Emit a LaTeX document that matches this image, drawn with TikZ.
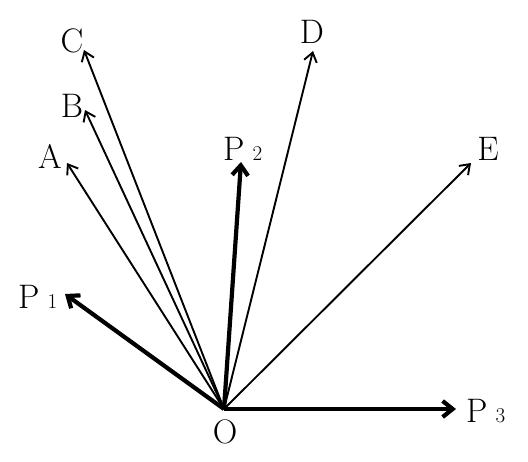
\documentclass[tikz,border=0pt]{standalone}
\usepackage{fontspec}
\usetikzlibrary{arrows.meta}
\begin{document}
\begin{tikzpicture}[x=1pt,y=-1pt,
  lbl/.style={inner sep=0pt,font=\fontsize{34}{40}\selectfont},
  thinvec/.style={line width=1.9pt,-{Straight Barb[length=9pt,width=13pt,line width=1.9pt]}},
  thickvec/.style={line width=4.2pt,-{Straight Barb[length=10pt,width=16pt,line width=4.2pt]}}]
\useasboundingbox (0,0) rectangle (528,461);
\newcommand{\sub}[1]{\hspace{8pt}{\fontsize{21}{24}\selectfont #1}}
\coordinate (O) at (224,409);
\coordinate (tC) at (84,50);
\coordinate (tB) at (85,110);
\coordinate (tA) at (67,163);
\coordinate (tD) at (313,51);
\coordinate (tE) at (471,163);
\coordinate (tP1) at (65,294);
\coordinate (tP2) at (241,162);
\coordinate (tP3) at (456,409);
\draw[thinvec] (O) -- (tC);
\draw[thinvec] (O) -- (tB);
\draw[thinvec] (O) -- (tA);
\draw[thinvec] (O) -- (tD);
\draw[thinvec] (O) -- (tE);
\draw[thickvec] (O) -- (tP1);
\draw[thickvec] (O) -- (tP2);
\draw[thickvec] (O) -- (tP3);
\node[lbl,anchor=base] (lC) at (72,52) {C};
\node[lbl,anchor=base] (lB) at (72,117) {B};
\node[lbl,anchor=base] (lA) at (50,168) {A};
\node[lbl,anchor=base] (lD) at (312,43) {D};
\node[lbl,anchor=base] (lE) at (488,160) {E};
\node[lbl,anchor=base] (lO) at (225,443) {O};
\node[lbl,anchor=base west] (lP1) at (18,308) {P\sub{1}};
\node[lbl,anchor=base west] (lP2) at (223,160) {P\sub{2}};
\node[lbl,anchor=base west] (lP3) at (466,422) {P\sub{3}};
\end{tikzpicture}
\end{document}
